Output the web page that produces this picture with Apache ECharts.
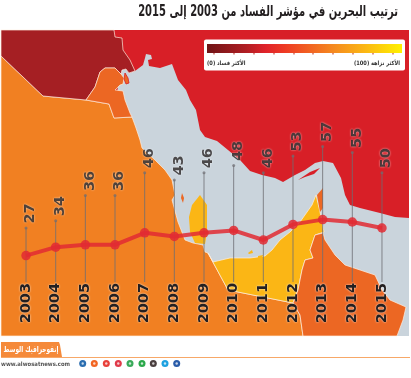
<!DOCTYPE html>
<html>
<head>
<meta charset="utf-8">
<style>
  html, body { margin: 0; padding: 0; background: #fff; }
  #chart { width: 411px; height: 378px; }
</style>
<script src="https://cdn.jsdelivr.net/npm/echarts@6/dist/echarts.min.js"></script>
</head>
<body>
<div id="chart"></div>
<script>
// data
const years = ['2003', '2004', '2005', '2006', '2007', '2008', '2009', '2010', '2011', '2012', '2013', '2014', '2015']
const scores = [27, 34, 36, 36, 46, 43, 46, 48, 46, 53, 57, 55, 50]
// where the line really sits in the picture (2011 is drawn lower than its label says)
const lineValues = [27, 34, 36, 36, 46, 43, 46, 48, 40, 53, 57, 55, 50]
const stemTops = [50, 56, 77, 77, 96, 90, 96, 102, 96, 110, 118, 113, 96]

const titleText = 'ترتيب البحرين في مؤشر الفساد من 2003 إلى 2015'

// map backdrop, in page pixels
const gulf = [[120, 70], [126, 69], [129, 73], [135, 71], [143, 65], [145, 58], [146, 54], [151, 55], [152, 59], [148, 60], [149, 66], [160, 68], [172, 64], [178, 80], [186, 90], [190, 100], [196, 110], [200, 130], [205, 137], [217, 141], [228, 150], [240, 160], [250, 171], [262, 175], [275, 178], [283, 182], [295, 175], [305, 170], [315, 163], [323, 161], [333, 163], [341, 178], [345, 195], [350, 205], [360, 208], [380, 213], [395, 217], [409, 218], [409, 336], [250, 336], [150, 260], [115, 110]]
const iraq = [[1, 30], [114, 30], [115, 37], [122, 38], [123, 50], [130, 60], [135, 71], [129, 73], [126, 69], [122, 70], [121, 74], [115, 68], [105, 68], [100, 72], [95, 87], [86, 100], [43, 96], [1, 56]]
const kuwait = [[86, 100], [95, 87], [100, 72], [105, 68], [115, 68], [121, 74], [124, 78], [123, 84], [120, 85], [115, 90], [123, 91], [125, 100], [130, 113], [132, 117], [114, 118], [109, 104]]
const bubiyan = [[125, 73], [128, 78], [129, 83], [126, 84], [124, 79]]
const saudi = [[1, 56], [43, 96], [86, 100], [109, 104], [114, 118], [132, 117], [136, 128], [140, 140], [142, 148], [155, 160], [165, 170], [172, 180], [175, 195], [172, 200], [178, 222], [185, 240], [193, 243], [203, 245], [205, 252], [208, 253], [228, 290], [293, 303], [300, 315], [303, 336], [1, 336]]
const uae = [[208, 253], [213, 262], [230, 258], [250, 258], [265, 256], [272, 250], [280, 240], [290, 232], [300, 222], [312, 205], [316, 195], [320, 212], [324, 232], [315, 235], [310, 250], [313, 258], [305, 260], [302, 270], [298, 290], [293, 303], [228, 290]]
const oman = [[323, 233], [325, 240], [335, 255], [345, 265], [360, 270], [375, 275], [382, 290], [390, 300], [406, 307], [403, 320], [397, 336], [303, 336], [300, 315], [293, 303], [298, 290], [302, 270], [305, 260], [313, 258], [310, 250], [315, 235]]
const musandam = [[317, 195], [323, 188], [323, 208], [320, 212]]
const qatar = [[200, 195], [192, 205], [189, 217], [190, 232], [195, 243], [205, 244], [207, 232], [207, 205]]
const bahrain = [[182, 193], [184, 198], [183, 203], [181, 198]]
const qeshm = [[298, 180], [310, 172], [320, 168], [314, 174], [305, 177]]
const uaeIslands = [[[248, 253], [252, 250], [253, 253], [249, 254]], [[258, 256], [263, 255], [262, 258], [258, 258]]]
const footerTab = [[1, 357], [1, 342], [59, 342], [60, 345], [62, 357]]

const colorbarTicks = [214, 234, 254, 274, 294, 313, 333, 353, 373, 393]
const socialDots = [
  [82.7, '#2a6db0'], [94.3, '#f26522'], [106.3, '#e8403a'], [118.3, '#e03a4a'], [130, '#3aaa5a'],
  [142, '#2aa84a'], [153.3, '#4a3f3f'], [165, '#1da1e0'], [176.7, '#2a5ba8']
]

const border = 'rgba(255, 240, 225, 0.85)'
function land(points, fill, stroke) {
  return {
    type: 'polygon',
    silent: true,
    z: -10,
    shape: { points: points },
    style: { fill: fill, stroke: stroke || null, lineWidth: stroke ? 0.8 : 0 }
  }
}
// the only Arabic face here is wide, so squeeze it sideways to the width of the original
function note(x, y, text, squeeze, style) {
  return {
    type: 'text',
    silent: true,
    x: x,
    y: y,
    scaleX: squeeze,
    z: 10,
    style: Object.assign({ text: text, fontFamily: '"DejaVu Sans"', verticalAlign: 'middle' }, style)
  }
}

const backdrop = [
  { type: 'rect', silent: true, z: -10, shape: { x: 1, y: 30, width: 408, height: 306 }, style: { fill: '#d81f27' } },
  land(gulf, '#cad4dc'),
  land(saudi, '#f18022', border),
  land(iraq, '#a51f23', border),
  land(kuwait, '#ec6723', border),
  land(bubiyan, '#ec6723', '#d81f27'),
  land(uae, '#fbb615', border),
  land(oman, '#ec6723', border),
  land(musandam, '#ec6723'),
  land(qatar, '#fbb615'),
  land(bahrain, '#ec6723'),
  land(qeshm, '#d81f27'),
  land(uaeIslands[0], '#fbb615'),
  land(uaeIslands[1], '#fbb615')
]

const legendBox = [
  { type: 'rect', silent: true, z: 5, shape: { x: 204, y: 39.5, width: 201, height: 31, r: 2 }, style: { fill: '#fff' } },
  {
    type: 'rect',
    silent: true,
    z: 6,
    shape: { x: 207, y: 44, width: 195, height: 9 },
    style: {
      fill: new echarts.graphic.LinearGradient(0, 0, 1, 0, [
        { offset: 0, color: '#6f1416' },
        { offset: 0.2, color: '#b01e23' },
        { offset: 0.3, color: '#e0222a' },
        { offset: 0.4, color: '#ee3a24' },
        { offset: 0.65, color: '#f58a20' },
        { offset: 0.8, color: '#fbb414' },
        { offset: 1, color: '#fff100' }
      ])
    }
  },
  note(400, 63.5, 'الأكثر نزاهة (100)', 0.85, { align: 'right', fontSize: 6, fontWeight: 'bold', fill: '#333' }),
  note(207, 63.5, 'الأكثر فساد (0)', 0.85, { align: 'left', fontSize: 6, fontWeight: 'bold', fill: '#333' })
].concat(colorbarTicks.map(x => ({
  type: 'rect',
  silent: true,
  z: 6,
  shape: { x: x - 0.5, y: 53, width: 1, height: 1.5 },
  style: { fill: '#b5281f' }
})))

const footer = [
  land(footerTab, '#f58a3a'),
  { type: 'rect', silent: true, z: 5, shape: { x: 1, y: 357, width: 409, height: 1 }, style: { fill: '#f7a868' } },
  note(31, 350, 'إنفوجرافيك الوسط', 0.68, { align: 'center', fontSize: 8.5, fontWeight: 'bold', fill: '#fff' }),
  note(1, 364, 'www.alwosatnews.com', 0.88, { align: 'left', fontSize: 6, fontWeight: 'bold', fill: '#555' })
].concat(socialDots.map(d => ({
  type: 'circle',
  silent: true,
  z: 5,
  shape: { cx: d[0], cy: 363.5, r: 3.5 },
  style: { fill: d[1] }
}))).concat(socialDots.map(d => ({
  type: 'circle',
  silent: true,
  z: 6,
  shape: { cx: d[0], cy: 363.5, r: 1.2 },
  style: { fill: 'rgba(255, 255, 255, 0.75)' }
})))

const heading = note(398, 12.5, titleText, 0.665, { align: 'right', fontSize: 15, fontWeight: 'bold', fill: '#231f20' })

const outlined = {
  color: '#231f20',
  fontFamily: '"DejaVu Sans"',
  fontWeight: 'bold',
  fontSize: 14.5,
  textShadowColor: 'rgba(255, 255, 255, 0.9)',
  textShadowBlur: 2
}

const chart = echarts.init(document.getElementById('chart'), null, { renderer: 'canvas' })
chart.setOption({
  animation: false,
  backgroundColor: '#fff',
  graphic: backdrop.concat(legendBox, footer, [heading]),
  // 1.2px per point, stems stop where the year labels begin
  grid: { left: 11.2, right: 14.2, top: 138, bottom: 96 },
  xAxis: {
    type: 'category',
    data: years,
    axisLine: { show: false },
    axisTick: { show: false },
    axisLabel: Object.assign({ rotate: 90, margin: 1, interval: 0, padding: [0, 0, 9, 0] }, outlined)
  },
  yAxis: { type: 'value', min: 5, max: 125, show: false },
  series: [
    {
      type: 'bar',
      data: stemTops,
      barWidth: 1,
      itemStyle: { color: 'rgba(110, 110, 115, 0.8)' },
      silent: true
    },
    {
      type: 'scatter',
      data: stemTops,
      symbolSize: 3,
      itemStyle: { color: 'rgba(110, 110, 115, 0.9)' },
      silent: true,
      label: Object.assign({
        show: true,
        position: 'top',
        distance: 3,
        rotate: 90,
        align: 'left',
        verticalAlign: 'middle',
        offset: [0, 4.5],
        formatter: p => String(scores[p.dataIndex])
      }, outlined)
    },
    {
      type: 'line',
      data: lineValues,
      symbol: 'circle',
      symbolSize: 9.5,
      lineStyle: { width: 4, color: 'rgba(226, 42, 50, 0.85)' },
      itemStyle: { color: 'rgba(226, 42, 50, 0.85)' },
      silent: true
    }
  ]
})
</script>
</body>
</html>
